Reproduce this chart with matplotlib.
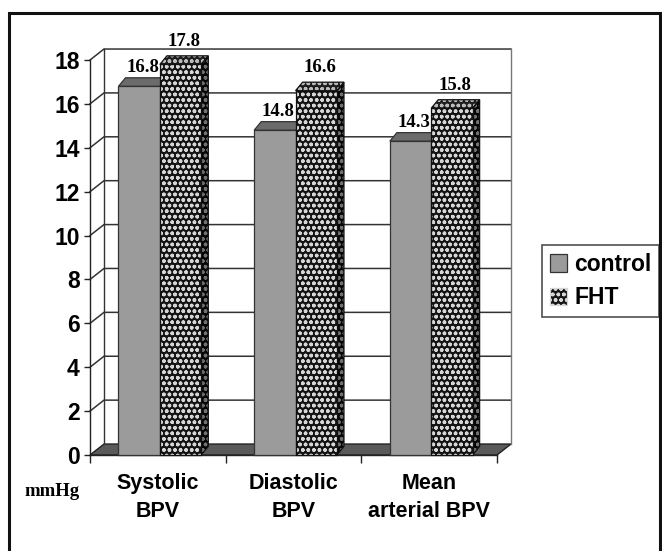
import matplotlib
matplotlib.use("Agg")
import matplotlib.pyplot as plt
from matplotlib.patches import Polygon, Rectangle, Patch
import numpy as np

# ---------------- data ----------------
categories = ["Systolic\nBPV", "Diastolic\nBPV", "Mean\narterial BPV"]
series_names = ["control", "FHT"]
control_values = [16.8, 14.8, 14.3]
fht_values = [17.8, 16.6, 15.8]
y_ticks = [0, 2, 4, 6, 8, 10, 12, 14, 16, 18]
unit_label = "mmHg"

# ---------------- style / layout ----------------
SANS = ["Liberation Sans", "DejaVu Sans"]
SERIF = ["Liberation Serif", "DejaVu Serif"]
plt.rcParams['hatch.linewidth'] = 1.05

W, H = 662, 551
fig = plt.figure(figsize=(W / 100, H / 100), dpi=100)
ax = fig.add_axes([90 / W, 96 / H, 407 / W, 395 / H])
n = len(categories)
ax.set_xlim(0, n)
ax.set_ylim(0, y_ticks[-1])
for s in ['top', 'right']:
    ax.spines[s].set_visible(False)
for s in ['left', 'bottom']:
    ax.spines[s].set_color('#222')
    ax.spines[s].set_linewidth(1.0)
ax.patch.set_visible(False)

WALL_DX, WALL_DY = 0.103, 0.5
BAR_DX, BAR_DY = 0.052, 0.39
BAR_W = 0.305
OFFSETS = [0.21, 0.515]
LABEL_PAD = [0.65, 0.85]
HATCH = 'ooo'

# floor
ax.add_patch(Polygon([(0, 0), (n, 0), (n + WALL_DX, WALL_DY), (WALL_DX, WALL_DY)],
                     closed=True, fc='#5a5a5a', ec='#222', lw=1.0, zorder=1, clip_on=False))
# side-wall diagonals + back-wall gridlines
for v in y_ticks[1:]:
    ax.plot([0, WALL_DX, n + WALL_DX], [v, v + WALL_DY, v + WALL_DY],
            color='#333', lw=1.1, zorder=1, clip_on=False, solid_joinstyle='miter')
top = y_ticks[-1] + WALL_DY
ax.plot([WALL_DX, WALL_DX], [WALL_DY, top], color='#333', lw=1.0, zorder=1, clip_on=False)
ax.plot([n + WALL_DX, n + WALL_DX], [WALL_DY, top], color='#777', lw=1.0, zorder=1, clip_on=False)

# ticks
ax.set_yticks(y_ticks)
ax.set_yticklabels([str(t) for t in y_ticks], fontsize=16.5, fontweight='bold', family=SANS)
ax.tick_params(axis='y', direction='out', length=4.5, width=1.0, pad=3.0, color='#222')
ax.set_xticks(range(n + 1))
ax.set_xticklabels([''] * (n + 1))
ax.tick_params(axis='x', which='major', direction='out', length=5.5, width=1.0, color='#222')
ax.set_xticks([i + 0.5 for i in range(n)], minor=True)
ax.set_xticklabels(categories, minor=True, fontsize=15.5, fontweight='bold', family=SANS,
                   linespacing=1.45)
ax.tick_params(axis='x', which='minor', length=0, pad=13)


def draw_series(values, off, front, top_fc, side_fc, hatch=None, hcol=None, top_h=None, side_h=None, z=3):
    xs = np.arange(n) + off
    if hatch:
        ax.bar(xs, values, width=BAR_W, align='edge', color=front, edgecolor=hcol,
               hatch=hatch, lw=0, zorder=z, clip_on=False)
        ax.bar(xs, values, width=BAR_W, align='edge', fill=False, edgecolor='#111',
               lw=0.9, zorder=z + 0.1, clip_on=False)
    else:
        ax.bar(xs, values, width=BAR_W, align='edge', color=front, edgecolor='#333',
               lw=0.9, zorder=z, clip_on=False)
    for x, v in zip(xs, values):
        tp = [(x, v), (x + BAR_W, v), (x + BAR_W + BAR_DX, v + BAR_DY), (x + BAR_DX, v + BAR_DY)]
        sp = [(x + BAR_W, 0), (x + BAR_W + BAR_DX, BAR_DY), (x + BAR_W + BAR_DX, v + BAR_DY), (x + BAR_W, v)]
        for pts, fc, hc in ((sp, side_fc, side_h), (tp, top_fc, top_h)):
            if hc:
                ax.add_patch(Polygon(pts, closed=True, fc=fc, ec=hc, hatch=hatch, lw=0,
                                     zorder=z - 0.05, clip_on=False))
                ax.add_patch(Polygon(pts, closed=True, fill=False, ec='#111', lw=0.9,
                                     zorder=z - 0.04, clip_on=False))
            else:
                ax.add_patch(Polygon(pts, closed=True, fc=fc, ec='#333', lw=0.9,
                                     zorder=z - 0.05, clip_on=False))
    return xs


xs_c = draw_series(control_values, OFFSETS[0], '#9b9b9b', '#6b6b6b', '#777')
xs_f = draw_series(fht_values, OFFSETS[1], '#141414', '#1e1e1e', '#050505',
                   hatch=HATCH, hcol='#d6d6d6', top_h='#bbbbbb', side_h='#707070', z=5)

for xs, vals, pad in ((xs_c, control_values, LABEL_PAD[0]), (xs_f, fht_values, LABEL_PAD[1])):
    for x, v in zip(xs, vals):
        ax.text(x + BAR_W / 2 + BAR_DX / 2, v + pad, f"{v:.1f}", ha='center', va='baseline',
                fontsize=13.5, fontweight='bold', family=SERIF, zorder=10, clip_on=False)

fig.text(52 / W, 1 - 492 / H, unit_label, ha='center', va='center', fontsize=13.5,
         fontweight='bold', family=SERIF)

handles = [Patch(fc='#9b9b9b', ec='#333', lw=0.9),
           Patch(fc='#141414', ec='#d6d6d6', hatch=HATCH, lw=0.9)]
leg = fig.legend(handles, series_names, loc='upper left', bbox_to_anchor=(542 / W, 1 - 245 / H),
                 borderaxespad=0, frameon=True, fancybox=False, handlelength=0.75, handleheight=0.8,
                 handletextpad=0.3, borderpad=0.35, labelspacing=0.45,
                 prop={'family': SANS, 'weight': 'bold', 'size': 16.5})
leg.get_frame().set_edgecolor('#222')
leg.get_frame().set_linewidth(1.2)

# outer frame
fig.patches.append(Rectangle((9 / W, -0.05), (660 - 9) / W, 1.05 - 13 / H, transform=fig.transFigure,
                             fill=False, ec='#111', lw=2.2, zorder=20))

fig.savefig("out.png", dpi=100)
